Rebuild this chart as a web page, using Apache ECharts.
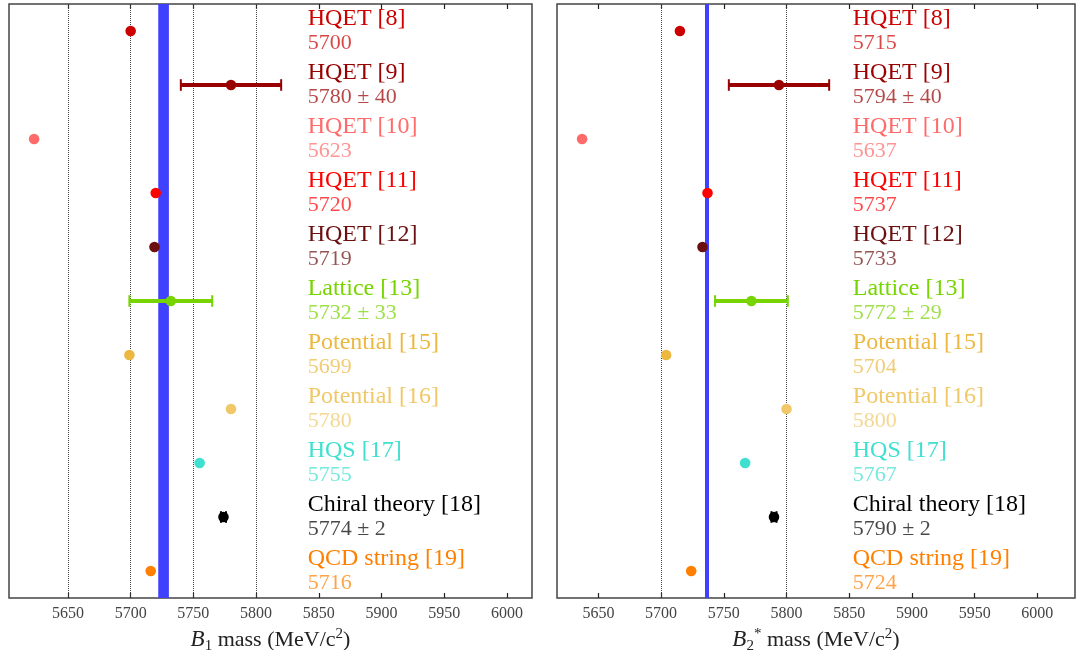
<!DOCTYPE html>
<html>
<head>
<meta charset="utf-8">
<script src="https://cdn.jsdelivr.net/npm/echarts@6/dist/echarts.min.js"></script>
<style>
  html, body { margin: 0; padding: 0; background: #fff; }
  #chart { width: 1076px; height: 650px; }
</style>
</head>
<body>
<div id="chart"></div>
<script>
// Model predictions for the orbitally excited B mesons
const models = ['HQET [8]', 'HQET [9]', 'HQET [10]', 'HQET [11]', 'HQET [12]', 'Lattice [13]',
  'Potential [15]', 'Potential [16]', 'HQS [17]', 'Chiral theory [18]', 'QCD string [19]'];
const modelColors = ['#cc0000', '#990000', '#ff6b6b', '#ff0000', '#6b1010', '#77d400',
  '#ecb840', '#f0c868', '#40e0d0', '#000000', '#ff7f00'];

const b1Mass = [5700, 5780, 5623, 5720, 5719, 5732, 5699, 5780, 5755, 5774, 5716];
const b1Err = [0, 40, 0, 0, 0, 33, 0, 0, 0, 2, 0];
const b2Mass = [5715, 5794, 5637, 5737, 5733, 5772, 5704, 5800, 5767, 5790, 5724];
const b2Err = [0, 40, 0, 0, 0, 29, 0, 0, 0, 2, 0];

// measured masses (band = central value +/- uncertainty)
const b1Measured = [5722, 5730.5];
const b2Measured = [5735, 5738.2];

const massTicks = [5650, 5700, 5750, 5800, 5850, 5900, 5950, 6000];
const b1Guides = [5650, 5700, 5750, 5800];
const b2Guides = [5700, 5800];
const b1Range = [5603, 6020];
const b2Range = [5617, 6030];

const SERIF = '"Liberation Serif", "DejaVu Serif", serif';

function rows(mass, err) {
  return mass.map((m, i) => [m, i, err[i]]);
}

function renderRow(params, api) {
  const v = api.value(0);
  const i = api.value(1);
  const e = api.value(2);
  const p = api.coord([v, i]);
  const cs = params.coordSys;
  const color = modelColors[i];
  const children = [];
  if (e > 0) {
    const lo = api.coord([v - e, i])[0];
    const hi = api.coord([v + e, i])[0];
    children.push({ type: 'line', shape: { x1: lo, y1: p[1], x2: hi, y2: p[1] },
      style: { stroke: color, lineWidth: 4 } });
    [lo, hi].forEach(x => children.push({ type: 'line',
      shape: { x1: x, y1: p[1] - 5.8, x2: x, y2: p[1] + 5.8 },
      style: { stroke: color, lineWidth: 2 } }));
  }
  children.push({ type: 'circle', shape: { cx: p[0], cy: p[1], r: 5.3 }, style: { fill: color } });
  // model name and predicted value, stacked in the right part of the panel
  const tx = cs.x + cs.width * 0.571;
  children.push({ type: 'text', x: tx, y: p[1] - 12.5,
    style: { text: models[i], fill: color, font: '24px ' + SERIF, align: 'left', verticalAlign: 'middle' } });
  children.push({ type: 'text', x: tx, y: p[1] + 12.5,
    style: { text: e > 0 ? v + ' \u00b1 ' + e : String(v), fill: color, opacity: 0.72,
      font: '22px ' + SERIF, align: 'left', verticalAlign: 'middle' } });
  return { type: 'group', children };
}

function bottomAxis(grid, range, rich) {
  return {
    type: 'value', gridIndex: grid, position: 'bottom', min: range[0], max: range[1],
    axisLine: { show: false },
    axisTick: { show: true, inside: true, length: 5, customValues: massTicks,
      lineStyle: { color: '#222', width: 1.2 } },
    axisLabel: { show: true, customValues: massTicks, margin: 8, color: '#444',
      fontFamily: SERIF, fontSize: 16, formatter: v => String(v) },
    splitLine: { show: false },
    name: rich, nameLocation: 'middle', nameGap: 24,
    nameTextStyle: {
      color: '#222', fontFamily: SERIF, fontSize: 22,
      rich: {
        it: { fontStyle: 'italic', fontSize: 23, fontFamily: SERIF, color: '#222', lineHeight: 27 },
        n: { fontSize: 22, fontFamily: SERIF, color: '#222', lineHeight: 27 },
        sub: { fontSize: 15, fontFamily: SERIF, color: '#222', verticalAlign: 'bottom', lineHeight: 27 },
        sup: { fontSize: 15, fontFamily: SERIF, color: '#222', verticalAlign: 'top', lineHeight: 27 }
      }
    }
  };
}

function topAxis(grid, range) {
  return {
    type: 'value', gridIndex: grid, position: 'top', min: range[0], max: range[1],
    axisLine: { show: false },
    axisTick: { show: true, inside: true, length: 5, customValues: massTicks,
      lineStyle: { color: '#222', width: 1.2 } },
    axisLabel: { show: false, customValues: massTicks },
    splitLine: { show: false }
  };
}

function catAxis(grid) {
  return {
    type: 'category', gridIndex: grid, data: models, inverse: true,
    axisLine: { show: false }, axisTick: { show: false }, axisLabel: { show: false },
    splitLine: { show: false }
  };
}

function panelSeries(xIdx, yIdx, mass, err, band, guides) {
  return {
    type: 'custom', xAxisIndex: xIdx, yAxisIndex: yIdx,
    data: rows(mass, err), encode: { x: 0, y: 1 },
    renderItem: renderRow, clip: false, silent: true, z: 5,
    markArea: {
      silent: true,
      itemStyle: { color: '#4040ff', opacity: 1 },
      data: [[{ xAxis: band[0] }, { xAxis: band[1] }]]
    },
    markLine: {
      silent: true, symbol: ['none', 'none'], label: { show: false },
      lineStyle: { type: 'dotted', color: '#444', width: 1 },
      data: guides.map(g => ({ xAxis: g }))
    }
  };
}

const gridBase = { top: 4, height: 594, show: true, borderColor: '#444', borderWidth: 1.5,
  backgroundColor: 'transparent', containLabel: false, outerBoundsMode: 'none' };

const chart = echarts.init(document.getElementById('chart'), null, { renderer: 'canvas' });
chart.setOption({
  animation: false,
  backgroundColor: '#fff',
  grid: [
    Object.assign({ left: 9, width: 523 }, gridBase),
    Object.assign({ left: 557, width: 518 }, gridBase)
  ],
  xAxis: [
    bottomAxis(0, b1Range, '{it|B}{sub|1}{n| mass (MeV/c}{sup|2}{n|)}'),
    topAxis(0, b1Range),
    bottomAxis(1, b2Range, '{it|B}{sub|2}{sup|*}{n| mass (MeV/c}{sup|2}{n|)}'),
    topAxis(1, b2Range)
  ],
  yAxis: [catAxis(0), catAxis(1)],
  series: [
    panelSeries(0, 0, b1Mass, b1Err, b1Measured, b1Guides),
    panelSeries(2, 1, b2Mass, b2Err, b2Measured, b2Guides)
  ]
});
</script>
</body>
</html>
